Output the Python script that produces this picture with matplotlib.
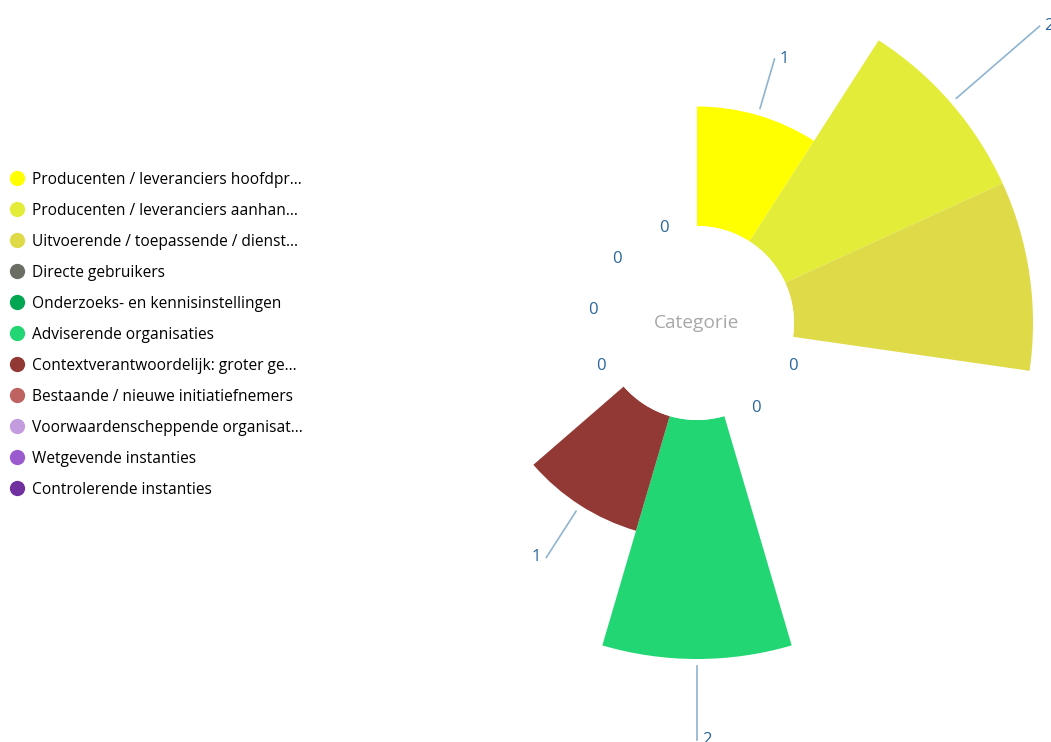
import numpy as np
import matplotlib
matplotlib.use("Agg")
import matplotlib.pyplot as plt
from matplotlib.lines import Line2D

categories = [
    "Producenten / leveranciers hoofdpr...",
    "Producenten / leveranciers aanhan...",
    "Uitvoerende / toepassende / dienst...",
    "Directe gebruikers",
    "Onderzoeks- en kennisinstellingen",
    "Adviserende organisaties",
    "Contextverantwoordelijk: groter ge...",
    "Bestaande / nieuwe initiatiefnemers",
    "Voorwaardenscheppende organisat...",
    "Wetgevende instanties",
    "Controlerende instanties",
]
values = [1, 2, 2, 0, 0, 2, 1, 0, 0, 0, 0]
colors = ["#FFFF00", "#E3EC38", "#DFDA47", "#6B6E63", "#00A651", "#22D673",
          "#923835", "#BF6262", "#C39BDF", "#9B5BCF", "#7030A0"]
center_title = "Categorie"

# style: leader line extension per sector (None = label hidden, as in the reference)
leader_ext = [0.49, 0.98, None, 0, 0, 0.68, 0.52, 0, 0, 0, 0]
label_color = "#2A6699"
line_color = "#8FB4D0"
FONT = "Open Sans"

W, H = 1051, 742
fig = plt.figure(figsize=(W / 100, H / 100), dpi=100)

cx, cy = 697, 323
inner_px = 97.0
unit_px = 119.5
rmax = 2.1
rorig = -inner_px / unit_px
Rpx = (rmax - rorig) * unit_px
ax = fig.add_axes([(cx - Rpx) / W, (H - cy - Rpx) / H, 2 * Rpx / W, 2 * Rpx / H],
                  projection="polar")
ax.set_theta_zero_location("N")
ax.set_theta_direction(-1)
ax.set_rorigin(rorig)
ax.set_ylim(0, rmax)
ax.axis("off")
ax.patch.set_visible(False)

n = len(categories)
width = 2 * np.pi / n
theta = np.arange(n) * width
ax.bar(theta, values, width=width, bottom=0, align="edge", color=colors,
       edgecolor="none", linewidth=0)

for i, v in enumerate(values):
    th = theta[i] + width / 2
    right = np.sin(th) >= -1e-9
    if v == 0:
        ax.annotate("0", xy=(th, 0.025), xytext=(0, -1), textcoords="offset pixels",
                    ha="left" if right else "right", va="center", color=label_color,
                    fontsize=12, family=FONT, annotation_clip=False)
    elif leader_ext[i] is not None:
        r1 = v + 0.06
        r2 = v + leader_ext[i]
        ax.plot([th, th], [r1, r2], color=line_color, lw=1.2, clip_on=False)
        ax.annotate(str(v), xy=(th, r2), xytext=(5 if right else -5, 0),
                    textcoords="offset pixels", ha="left" if right else "right",
                    va="center", color=label_color, fontsize=12, family=FONT,
                    annotation_clip=False)

fig.text(cx / W, 1 - cy / H, center_title, ha="center", va="center",
         color="#A8A8A8", fontsize=13.8, family=FONT)

handles = [Line2D([], [], marker="o", linestyle="none", markersize=11,
                  markerfacecolor=c, markeredgecolor="none") for c in colors]
fig.legend(handles, categories, loc="upper left",
           bbox_to_anchor=(5 / W, 1 - 167 / H),
           frameon=False, handlelength=1.0, handletextpad=0.45, labelspacing=0.965,
           prop={"family": FONT, "size": 11.2}, borderaxespad=0, borderpad=0.3)

fig.savefig("out.png", dpi=100)
